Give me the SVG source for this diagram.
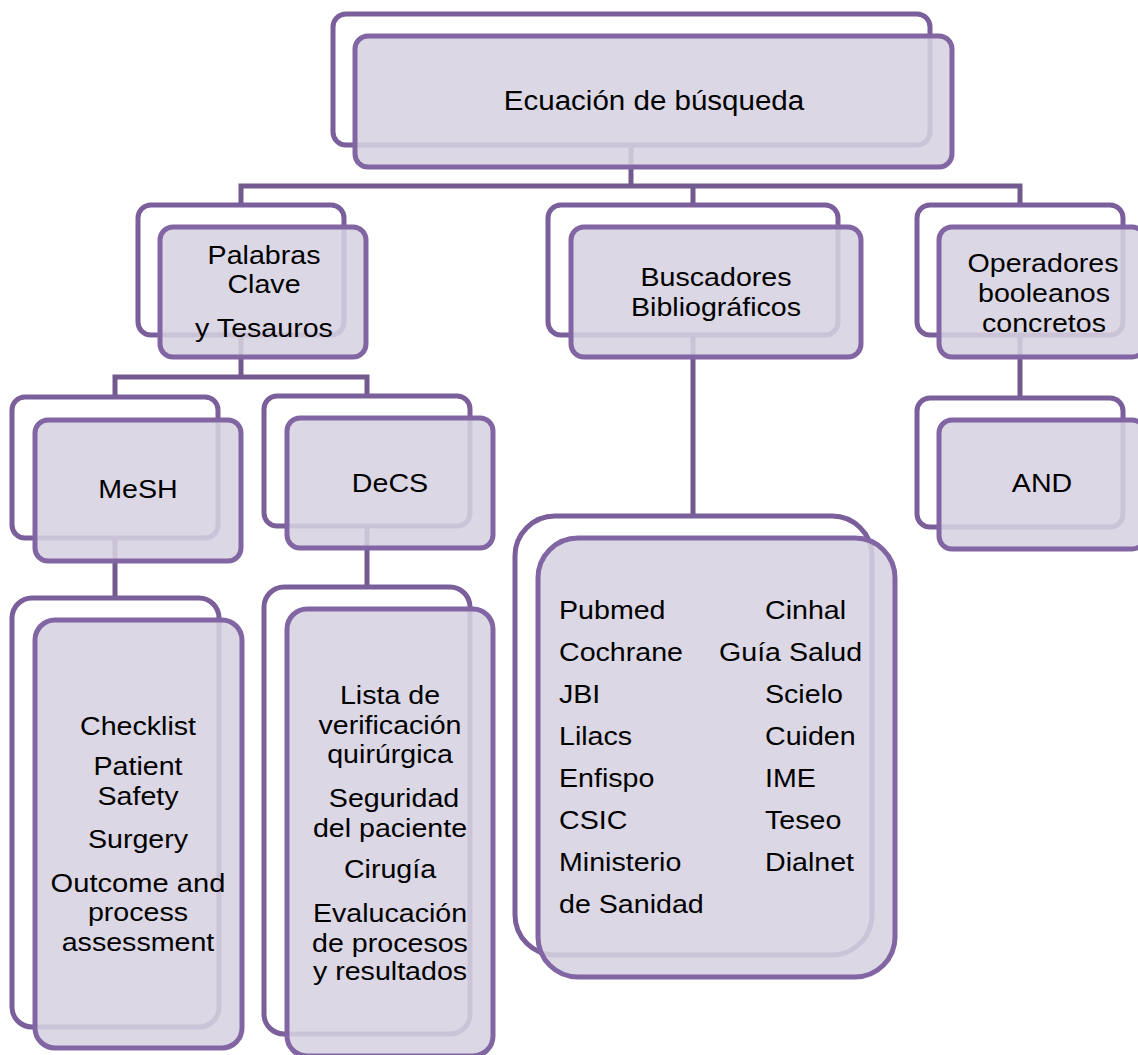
<svg xmlns="http://www.w3.org/2000/svg" width="1138" height="1055" viewBox="0 0 1138 1055">
<style>
.conn{fill:none;stroke:#725a8f;stroke-width:5;stroke-linejoin:miter}
.back{fill:#ffffff;stroke:#7a5f9b;stroke-width:5}
.front{fill:rgb(214,209,224);fill-opacity:0.88;stroke:#8166a3;stroke-width:5}
.t{font-family:"Liberation Sans",Arial,sans-serif;font-size:26px;fill:#000}
.c{text-anchor:middle}
</style>
<rect width="1138" height="1055" fill="#ffffff"/>
<g id="connectors">
<path class="conn" d="M631,145 V186 M241,205 V186 H1020 V205 M693,186 V205"/>
<path class="conn" d="M241,335 V377 M115,397 V377 H367 V396"/>
<path class="conn" d="M115,538 V598 M367,526 V587 M693,335 V516 M1020,335 V398"/>
</g>
<g id="n-ecuacion">
<rect class="back" x="333" y="14" width="597" height="131" rx="13"/>
<rect class="front" x="355" y="36" width="597" height="131" rx="13"/>
<text class="t c" style="font-size:28px" transform="translate(654,110) scale(1.055,1)">Ecuación de búsqueda</text>
</g>
<g id="n-palabras">
<rect class="back" x="138" y="205" width="206" height="130" rx="13"/>
<rect class="front" x="160" y="227" width="206" height="130" rx="13"/>
<text class="t c" transform="translate(264,264) scale(1.1,1)">Palabras</text>
<text class="t c" transform="translate(264,293) scale(1.1,1)">Clave</text>
<text class="t c" transform="translate(264,337) scale(1.1,1)">y Tesauros</text>
</g>
<g id="n-buscadores">
<rect class="back" x="548" y="205" width="290" height="130" rx="13"/>
<rect class="front" x="571" y="227" width="290" height="130" rx="13"/>
<text class="t c" transform="translate(716,286) scale(1.1,1)">Buscadores</text>
<text class="t c" transform="translate(716,316) scale(1.1,1)">Bibliográficos</text>
</g>
<g id="n-operadores">
<rect class="back" x="917" y="205" width="206" height="130" rx="13"/>
<rect class="front" x="939" y="227" width="206" height="130" rx="13"/>
<text class="t c" transform="translate(1043,272) scale(1.1,1)">Operadores</text>
<text class="t c" transform="translate(1044,302) scale(1.1,1)">booleanos</text>
<text class="t c" transform="translate(1044,332) scale(1.1,1)">concretos</text>
</g>
<g id="n-mesh">
<rect class="back" x="12" y="397" width="206" height="141" rx="13"/>
<rect class="front" x="35" y="420" width="206" height="141" rx="13"/>
<text class="t c" transform="translate(138,498) scale(1.1,1)">MeSH</text>
</g>
<g id="n-decs">
<rect class="back" x="264" y="396" width="206" height="130" rx="13"/>
<rect class="front" x="287" y="418" width="206" height="130" rx="13"/>
<text class="t c" transform="translate(390,492) scale(1.1,1)">DeCS</text>
</g>
<g id="n-and">
<rect class="back" x="917" y="398" width="206" height="129" rx="13"/>
<rect class="front" x="939" y="420" width="206" height="129" rx="13"/>
<text class="t c" transform="translate(1042,492) scale(1.1,1)">AND</text>
</g>
<g id="n-mesh-terms">
<rect class="back" x="12" y="598" width="207" height="429" rx="20"/>
<rect class="front" x="35" y="620" width="207" height="428" rx="20"/>
<text class="t c" transform="translate(138,735) scale(1.1,1)">Checklist</text>
<text class="t c" transform="translate(138,775) scale(1.1,1)">Patient</text>
<text class="t c" transform="translate(138,805) scale(1.1,1)">Safety</text>
<text class="t c" transform="translate(138,848) scale(1.1,1)">Surgery</text>
<text class="t c" transform="translate(138,892) scale(1.12,1)">Outcome and</text>
<text class="t c" transform="translate(138,921) scale(1.1,1)">process</text>
<text class="t c" transform="translate(138,951) scale(1.1,1)">assessment</text>
</g>
<g id="n-decs-terms">
<rect class="back" x="264" y="587" width="206" height="447" rx="20"/>
<rect class="front" x="287" y="609" width="206" height="447" rx="20"/>
<text class="t c" transform="translate(390,704) scale(1.1,1)">Lista de</text>
<text class="t c" transform="translate(390,734) scale(1.1,1)">verificación</text>
<text class="t c" transform="translate(390,763) scale(1.1,1)">quirúrgica</text>
<text class="t c" transform="translate(394,807) scale(1.1,1)">Seguridad</text>
<text class="t c" transform="translate(390,837) scale(1.1,1)">del paciente</text>
<text class="t c" transform="translate(390,878) scale(1.1,1)">Cirugía</text>
<text class="t c" transform="translate(390,922) scale(1.1,1)">Evalucación</text>
<text class="t c" transform="translate(390,952) scale(1.1,1)">de procesos</text>
<text class="t c" transform="translate(390,980) scale(1.1,1)">y resultados</text>
</g>
<g id="n-bases">
<rect class="back" x="515" y="516" width="357" height="439" rx="40"/>
<rect class="front" x="538" y="538" width="357" height="439" rx="40"/>
<text class="t" transform="translate(559,619) scale(1.1,1)">Pubmed</text>
<text class="t" transform="translate(559,661) scale(1.1,1)">Cochrane</text>
<text class="t" transform="translate(559,703) scale(1.1,1)">JBI</text>
<text class="t" transform="translate(559,745) scale(1.1,1)">Lilacs</text>
<text class="t" transform="translate(559,787) scale(1.1,1)">Enfispo</text>
<text class="t" transform="translate(559,829) scale(1.1,1)">CSIC</text>
<text class="t" transform="translate(559,871) scale(1.1,1)">Ministerio</text>
<text class="t" transform="translate(559,913) scale(1.1,1)">de Sanidad</text>
<text class="t" transform="translate(765,619) scale(1.1,1)">Cinhal</text>
<text class="t" transform="translate(719,661) scale(1.1,1)">Guía Salud</text>
<text class="t" transform="translate(765,703) scale(1.1,1)">Scielo</text>
<text class="t" transform="translate(765,745) scale(1.1,1)">Cuiden</text>
<text class="t" transform="translate(765,787) scale(1.1,1)">IME</text>
<text class="t" transform="translate(765,829) scale(1.1,1)">Teseo</text>
<text class="t" transform="translate(765,871) scale(1.1,1)">Dialnet</text>
</g>
</svg>
